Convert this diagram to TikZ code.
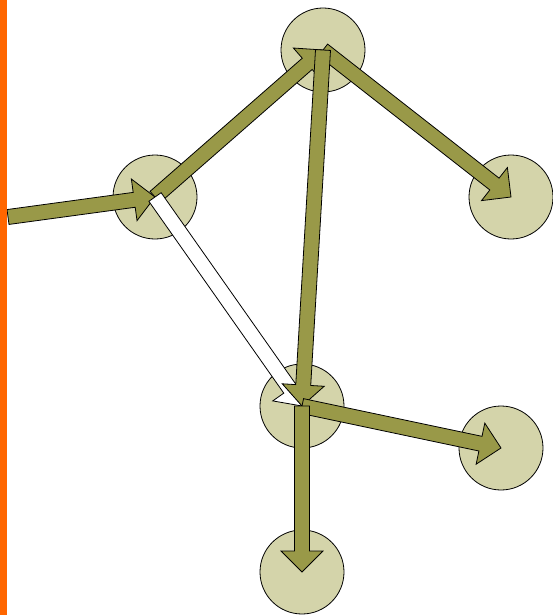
\documentclass[tikz,border=0pt]{standalone}
\usetikzlibrary{calc}
\definecolor{circfill}{HTML}{D4D4AA}
\definecolor{arrfill}{HTML}{999948}
\definecolor{barorange}{HTML}{FF6600}
\tikzset{
  bubble/.style={circle, draw=black, line width=0.8pt, fill=circfill, minimum size=84pt, inner sep=0pt},
  olivearrow/.style={draw=black, line width=0.8pt, fill=arrfill, line join=miter},
  whitearrow/.style={draw=black, line width=0.8pt, fill=white, line join=miter},
}
\newcommand\blockarrow[3]{%
  \coordinate (hb) at ($(#3)!21pt!(#2)$);
  \path[#1] ($(#2)!7.5pt!90:(#3)$) -- ($(hb)!7.5pt!90:(#3)$) -- ($(hb)!21pt!90:(#3)$)
    -- (#3) -- ($(hb)!21pt!-90:(#3)$) -- ($(hb)!7.5pt!-90:(#3)$) -- ($(#2)!7.5pt!-90:(#3)$) -- cycle;
}
\begin{document}
\begin{tikzpicture}[x=1pt,y=-1pt]
  \useasboundingbox (0,0) rectangle (553,615);
  \node[bubble] (A) at (155,197) {};
  \node[bubble] (B) at (323,50) {};
  \node[bubble] (C) at (511,197) {};
  \node[bubble] (D) at (302,406) {};
  \node[bubble] (E) at (501,448) {};
  \node[bubble] (F) at (302,572) {};
  \coordinate (S) at (8,217);
  \blockarrow{olivearrow}{S}{A.center}
  \blockarrow{olivearrow}{A.center}{B.center}
  \blockarrow{whitearrow}{A.center}{D.center}
  \blockarrow{olivearrow}{B.center}{C.center}
  \blockarrow{olivearrow}{B.center}{D.center}
  \blockarrow{olivearrow}{D.center}{E.center}
  \blockarrow{olivearrow}{D.center}{F.center}
  \fill[barorange] (0,0) rectangle (7,615);
\end{tikzpicture}
\end{document}
